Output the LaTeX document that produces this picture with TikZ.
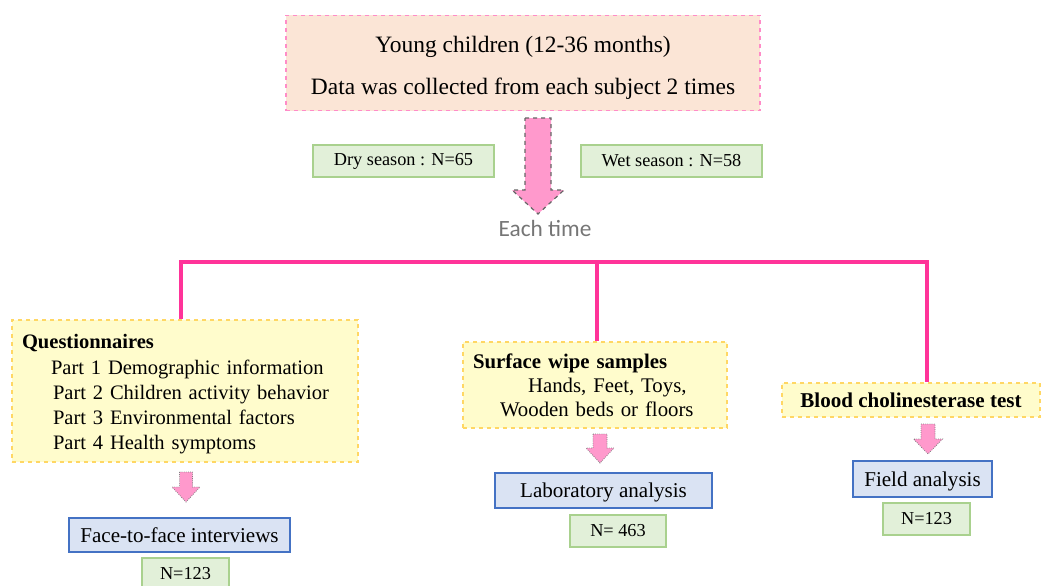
\documentclass[tikz,border=0pt]{standalone}
\usepackage{fontspec}
\setmainfont{Liberation Serif}
\newfontfamily\calibri{Carlito}
\usetikzlibrary{arrows.meta, positioning, calc}
\definecolor{peach}{RGB}{251,229,214}
\definecolor{peachline}{RGB}{255,140,200}
\definecolor{paleyellow}{RGB}{255,252,204}
\definecolor{goldline}{RGB}{255,215,100}
\definecolor{palegreen}{RGB}{226,240,217}
\definecolor{greenline}{RGB}{169,209,142}
\definecolor{paleblue}{RGB}{218,227,243}
\definecolor{blueline}{RGB}{68,114,196}
\definecolor{hotpink}{RGB}{255,51,153}
\definecolor{arrowpink}{RGB}{255,153,204}
\definecolor{softgray}{RGB}{118,118,118}

% block arrow pointing down: [style] x, top, half shaft, half head, head start, tip
\newcommand{\pinkdown}[7][]{%
  \filldraw[fill=arrowpink, draw=gray, #1]
    ({#2-#4},#3) -- ({#2+#4},#3) -- ({#2+#4},#6) -- ({#2+#5},#6)
    -- (#2,#7) -- ({#2-#5},#6) -- ({#2-#4},#6) -- cycle;}

\begin{document}
\begin{tikzpicture}[x=0.75pt, y=-0.75pt,
  body/.style={font=\fontsize{15.8}{18.75}\selectfont},
  countbox/.style={draw=greenline, fill=palegreen, line width=0.8pt,
    minimum height=24pt, font=\fontsize{13.7}{16}\selectfont},
  methodbox/.style={draw=goldline, fill=paleyellow, dashed, line width=0.9pt, body},
  resultbox/.style={draw=blueline, fill=paleblue, line width=1pt, body, text depth=0pt},
  pinkbar/.style={hotpink, line width=2.4pt}]
  \useasboundingbox (0,0) rectangle (1041,585);

  % Subjects
  \node[draw=peachline, fill=peach, dashed, line width=0.9pt,
    minimum width=355.5pt, minimum height=71.25pt, align=center,
    font=\fontsize{17.6}{31.5}\selectfont] (subj) at (523,63)
    {\rule{0pt}{19pt}Young children (12-36 months)\\Data was collected from each subject 2 times};

  % Seasons
  \node[countbox, minimum width=135.75pt] (dry) at (403.5,161) {Dry season : N=65};
  \node[countbox, minimum width=135.75pt] (wet) at (671.5,161) {Wet season : N=58};

  % Big arrow
  \pinkdown[dashed, draw=gray!80!black, line width=0.9pt]{538}{118}{13}{26}{190}{214}
  \node[text=softgray, font=\calibri\fontsize{17.5}{20}\selectfont] (each) at (545,228) {Each time};

  % Methods
  \node[methodbox, minimum width=259.5pt, minimum height=106.5pt,
    text width=244.5pt, align=left, font=\fontsize{15.4}{18.75}\selectfont] (quest) at (185,391)
    {\rule{0pt}{15.5pt}\textbf{Questionnaires}\\[1.2pt]
     \hspace*{21.75pt}Part 1 Demographic information\\
     \hspace*{23.25pt}Part 2 Children activity behavior\\
     \hspace*{23.25pt}Part 3 Environmental factors\\
     \hspace*{23.25pt}Part 4 Health symptoms};
  \node[methodbox, minimum width=198pt, minimum height=64.5pt,
    text width=183pt, align=left, font=\fontsize{15.6}{18}\selectfont] (wipe) at (595,385)
    {\textbf{Surface wipe samples}\\
     \hspace*{41.25pt}Hands, Feet, Toys,\\
     \hspace*{20.25pt}Wooden beds or floors};
  \node[methodbox, minimum width=193.5pt, minimum height=25.5pt] (blood) at (911,400)
    {\textbf{Blood cholinesterase test}};

  % Branches
  \coordinate (barL) at (181,262);
  \coordinate (bar) at (597,262);
  \coordinate (barR) at (927,262);
  \draw[pinkbar] (quest.north -| barL) -- (barL) -- (barR) -- (blood.north -| barR);
  \draw[pinkbar] (wipe.north -| bar) -- (bar);

  % Small arrows
  \pinkdown[densely dotted, line width=0.6pt]{186}{472}{6.5}{14}{487}{502}
  \pinkdown[densely dotted, line width=0.6pt]{600}{434}{7}{14}{448}{463}
  \pinkdown[densely dotted, line width=0.6pt]{928}{424}{7}{14.5}{439}{454}

  % Analyses
  \node[resultbox, minimum width=165.75pt, minimum height=25.5pt] (face) at (179.5,535) {Face-to-face interviews};
  \node[resultbox, minimum width=162.75pt, minimum height=26.25pt] (lab) at (603.5,490.5) {Laboratory analysis};
  \node[resultbox, minimum width=104.25pt, minimum height=27pt] (field) at (922.5,479) {Field analysis};

  % Sample sizes
  \node[countbox, minimum width=65.25pt] (n1) at (185.5,574) {N=123};
  \node[countbox, minimum width=72pt] (n2) at (618,531) {N= 463};
  \node[countbox, minimum width=65.25pt] (n3) at (926.5,519) {N=123};
\end{tikzpicture}
\end{document}
